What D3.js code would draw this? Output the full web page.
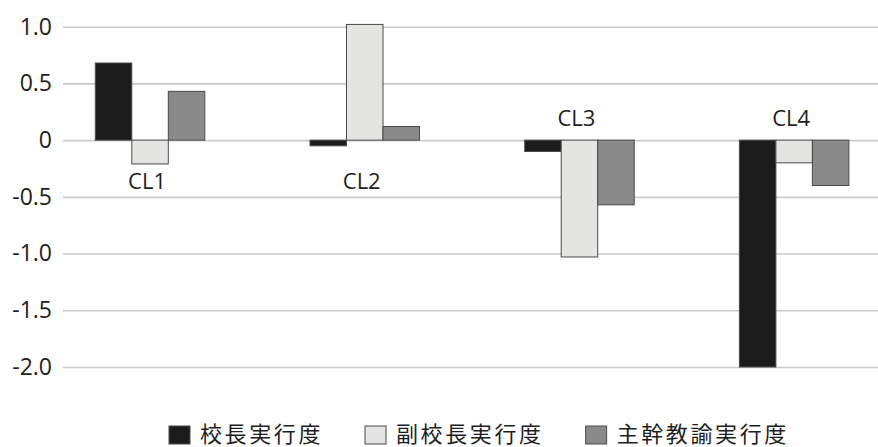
<!DOCTYPE html>
<html>
<head>
<meta charset="utf-8">
<script src="https://cdn.jsdelivr.net/npm/d3@7"></script>
<style>
  html, body { margin: 0; padding: 0; background: #fff; }
  svg { display: block; }
</style>
</head>
<body>
<svg id="chart" width="878" height="447"></svg>
<script>
// Cluster categories and the three evaluation series
const categories = ["CL1", "CL2", "CL3", "CL4"];
const seriesNames = ["校長実行度", "副校長実行度", "主幹教諭実行度"];
const principal = [0.68, -0.05, -0.10, -2.00];
const vicePrincipal = [-0.21, 1.02, -1.03, -0.20];
const chiefTeacher = [0.43, 0.12, -0.57, -0.40];
const tickValues = [1.0, 0.5, 0, -0.5, -1.0, -1.5, -2.0];
const tickLabels = ["1.0", "0.5", "0", "-0.5", "-1.0", "-1.5", "-2.0"];
const seriesColors = ["#1b1b1b", "#e4e4e2", "#8a8a8a"];

const series = [principal, vicePrincipal, chiefTeacher];
const rows = categories.map((c, i) => ({ cat: c, values: series.map(s => s[i]) }));

const svg = d3.select("#chart");
const latin = "'Open Sans', 'Noto Sans', sans-serif";
const cjk = "'Noto Sans CJK JP', sans-serif";

const y = d3.scaleLinear().domain([-2, 1]).range([367, 26.7]);
const x0 = d3.scaleBand().domain(categories).range([42.7, 901.5])
  .paddingInner(0.49).paddingOuter(0.245);
const x1 = d3.scaleBand().domain(d3.range(series.length)).range([0, x0.bandwidth()]);

// Horizontal gridlines and value labels
const yAxis = d3.axisLeft(y)
  .tickValues(tickValues)
  .tickSize(-(878 - 63))
  .tickPadding(11)
  .tickFormat((d, i) => tickLabels[i]);

const gAxis = svg.append("g").attr("transform", "translate(63,0)").call(yAxis);
gAxis.select(".domain").remove();
gAxis.selectAll(".tick line").attr("stroke", "#cacaca").attr("stroke-width", 1.6);
gAxis.selectAll(".tick text")
  .attr("fill", "#1e1e1e")
  .style("font-family", latin)
  .style("font-size", "23px");

// Grouped bars
const groups = svg.append("g").selectAll("g")
  .data(rows).join("g")
  .attr("transform", d => `translate(${x0(d.cat)},0)`);

groups.selectAll("rect")
  .data(d => d.values.map((v, k) => ({ v, k })))
  .join("rect")
  .attr("x", d => x1(d.k))
  .attr("width", x1.bandwidth())
  .attr("y", d => y(Math.max(0, d.v)))
  .attr("height", d => Math.abs(y(d.v) - y(0)))
  .attr("fill", d => seriesColors[d.k])
  .attr("stroke", "#4a4a4a")
  .attr("stroke-width", 1);

// Category labels: below the zero line when the group reaches above it, otherwise above
groups.append("text")
  .attr("x", x0.bandwidth() / 2 - 3)
  .attr("y", d => d3.max(d.values) > 0 ? y(0) + 49 : y(0) - 14)
  .attr("text-anchor", "middle")
  .attr("fill", "#1e1e1e")
  .style("font-family", latin)
  .style("font-size", "22px")
  .text(d => d.cat);

// Legend
const legend = svg.append("g");
let lx = 169;
seriesNames.forEach((name, k) => {
  legend.append("rect")
    .attr("x", lx).attr("y", 426)
    .attr("width", 21).attr("height", 18)
    .attr("fill", seriesColors[k])
    .attr("stroke", "#4a4a4a").attr("stroke-width", 1);
  const t = legend.append("text")
    .attr("x", lx + 31).attr("y", 442)
    .attr("fill", "#1e1e1e")
    .style("font-family", cjk)
    .style("font-size", "22px")
    .style("letter-spacing", "2.6px")
    .text(name);
  lx += 31 + t.node().getComputedTextLength() + 42;
});
</script>
</body>
</html>
